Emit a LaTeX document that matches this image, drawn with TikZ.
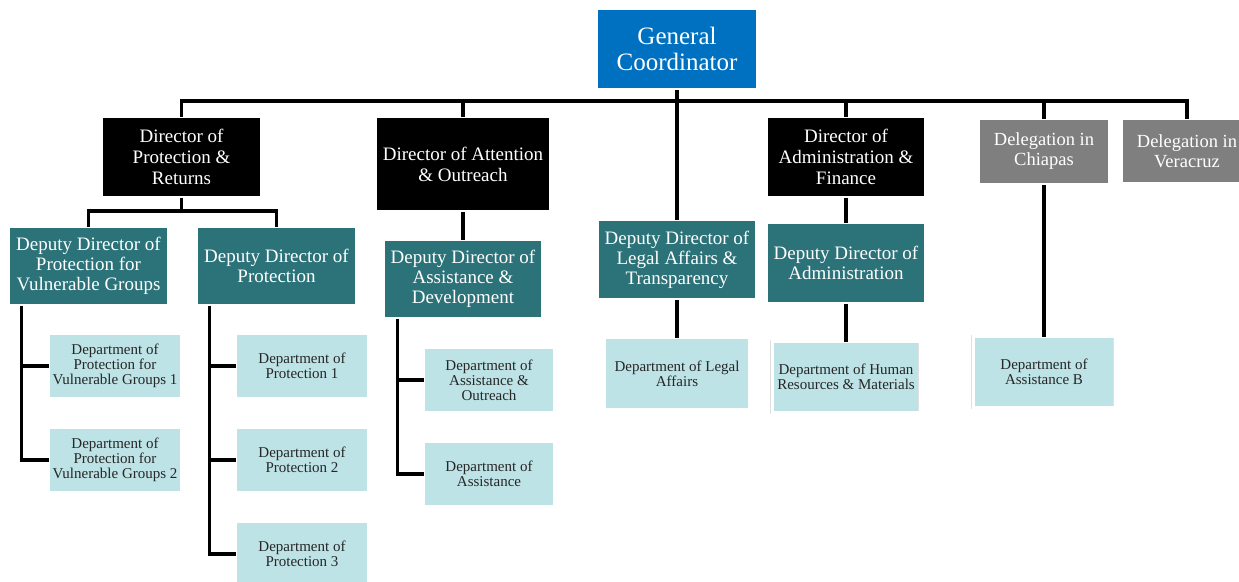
\documentclass[tikz,border=0pt]{standalone}
\usepackage{fontspec}
\setmainfont{Liberation Serif}
\usetikzlibrary{calc}

\definecolor{gcblue}{HTML}{0070C0}
\definecolor{deputyteal}{HTML}{2C7279}
\definecolor{deptblue}{HTML}{BEE3E6}
\definecolor{delegray}{HTML}{7F7F7F}

\tikzset{
  unit/.style={draw=black!12, line width=0.4pt, double=white, double distance=3pt,
    align=center, inner sep=2pt, outer sep=0pt},
  coordbox/.style={unit, fill=gcblue, text=white, font=\fontsize{25}{26}\selectfont},
  dirbox/.style={unit, fill=black, text=white, font=\fontsize{19}{21}\selectfont},
  delbox/.style={unit, fill=delegray, text=white, font=\fontsize{18.5}{20}\selectfont},
  depbox/.style={unit, fill=deputyteal, text=white, font=\fontsize{19}{20}\selectfont},
  deptbox/.style={unit, fill=deptblue, text=black!85, font=\fontsize{15}{15}\selectfont,
    minimum width=133pt, minimum height=65pt},
  link/.style={line width=3.5pt, black}
}

\begin{document}
\begin{tikzpicture}[x=1pt, y=-1pt]
    \useasboundingbox (0,0) rectangle (1239,581);

    % Top level
    \node[coordbox, minimum width=161pt, minimum height=81pt] (GC) at (677,49) {General\\Coordinator};

    % Directors and delegations
    \node[dirbox, minimum width=160pt, minimum height=81pt] (DPR) at (181.5,157) {Director of\\Protection \&\\Returns};
    \node[dirbox, minimum width=175pt, minimum height=95pt] (DAO) at (463,164) {Director of Attention\\\& Outreach};
    \node[dirbox, minimum width=159pt, minimum height=81pt] (DAF) at (846,157) {Director of\\Administration \&\\Finance};
    \node[delbox, minimum width=131pt, minimum height=66pt] (DCH) at (1044,151.5) {Delegation in\\Chiapas};
    \node[delbox, minimum width=131pt, minimum height=65pt] (DVE) at (1187,151) {Delegation in\\Veracruz};

    % Deputy directors
    \node[depbox, minimum width=160pt, minimum height=79pt] (VG) at (88.5,266) {Deputy Director of\\Protection for\\Vulnerable Groups};
    \node[depbox, minimum width=160pt, minimum height=79pt] (DP) at (276.5,266) {Deputy Director of\\Protection};
    \node[depbox, minimum width=159pt, minimum height=79pt] (DAD) at (463,279) {Deputy Director of\\Assistance \&\\Development};
    \node[depbox, minimum width=159pt, minimum height=80pt] (DLT) at (677,259.5) {Deputy Director of\\Legal Affairs \&\\Transparency};
    \node[depbox, minimum width=159pt, minimum height=81pt] (DAM) at (846,263) {Deputy Director of\\Administration};

    % Departments
    \node[deptbox] (VG1) at (115,366) {Department of\\Protection for\\Vulnerable Groups 1};
    \node[deptbox] (VG2) at (115,460) {Department of\\Protection for\\Vulnerable Groups 2};
    \node[deptbox] (P1) at (302,366) {Department of\\Protection 1};
    \node[deptbox] (P2) at (302,460) {Department of\\Protection 2};
    \node[deptbox] (P3) at (302,554) {Department of\\Protection 3};
    \node[deptbox, minimum width=131pt] (AO) at (489,380) {Department of\\Assistance \&\\Outreach};
    \node[deptbox, minimum width=131pt] (AS) at (489,474) {Department of\\Assistance};
    \node[deptbox, minimum width=145pt, minimum height=72pt] (LA) at (677,373.5) {Department of Legal\\Affairs};
    \node[deptbox, minimum width=148pt, minimum height=71pt] (HR) at (846,377) {Department of Human\\Resources \& Materials};
    \node[deptbox, minimum width=142pt, minimum height=71pt] (AB) at (1044,372) {Department of\\Assistance B};

    % Main bus
    \coordinate (bus) at (677,101);
    \draw[link] (DPR.north) |- (bus) -| (DVE.north);
    \draw[link] (GC.south) -- (DLT.north);
    \draw[link] (DAO.north) -- (DAO.north |- bus);
    \draw[link] (DAF.north) -- (DAF.north |- bus);
    \draw[link] (DCH.north) -- (DCH.north |- bus);

    % Protection & Returns branch
    \coordinate (pbus) at (181.5,211);
    \draw[link] (DPR.south) -- (pbus);
    \draw[link] (VG.north) |- (pbus) -| (DP.north);

    % Single drops
    \draw[link] (DAO.south) -- (DAD.north);
    \draw[link] (DLT.south) -- (LA.north);
    \draw[link] (DAF.south) -- (DAM.north);
    \draw[link] (DAM.south) -- (HR.north);
    \draw[link] (DCH.south) -- (AB.north);

    % Department trunks
    \coordinate (tVG) at ($(VG.south west)+(13,0)$);
    \draw[link] (tVG) |- (VG2.west);
    \draw[link] (VG1.west) -- (VG1.west -| tVG);

    \coordinate (tDP) at ($(DP.south west)+(13,0)$);
    \draw[link] (tDP) |- (P3.west);
    \draw[link] (P1.west) -- (P1.west -| tDP);
    \draw[link] (P2.west) -- (P2.west -| tDP);

    \coordinate (tAD) at ($(DAD.south west)+(14,0)$);
    \draw[link] (tAD) |- (AS.west);
    \draw[link] (AO.west) -- (AO.west -| tAD);
\end{tikzpicture}
\end{document}
